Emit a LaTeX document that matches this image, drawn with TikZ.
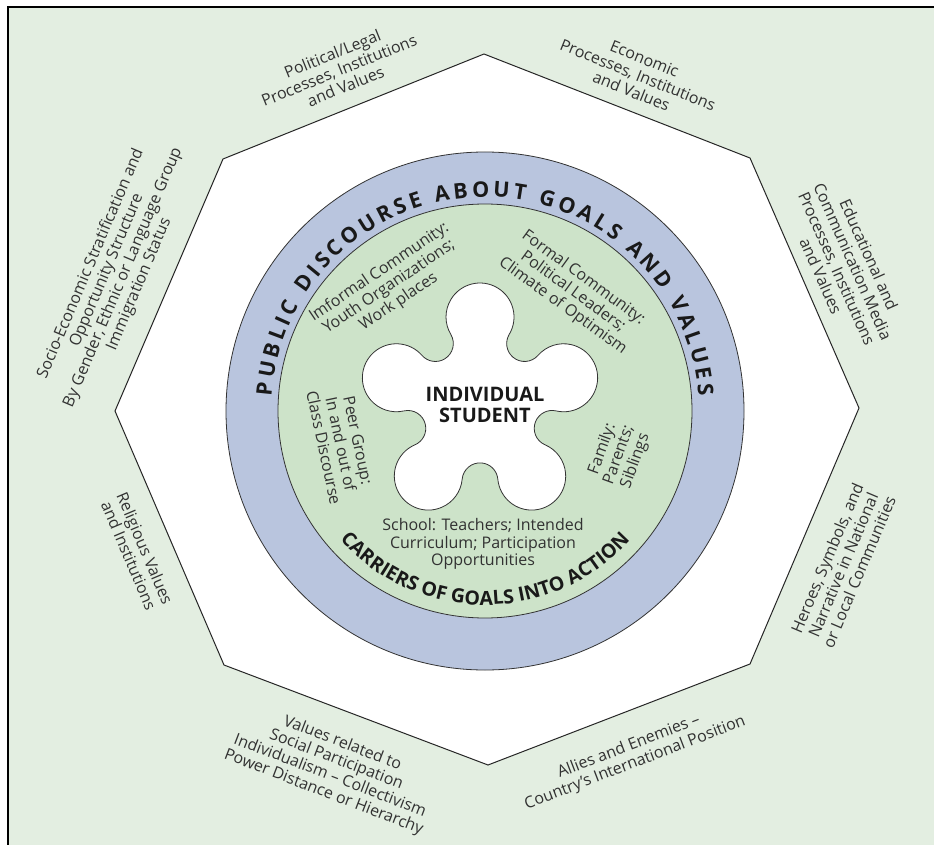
\documentclass[tikz,border=0pt]{standalone}
\usepackage{fontspec}
\setmainfont{Open Sans}
\usetikzlibrary{decorations.text}
\definecolor{bg}{RGB}{227,238,225}
\definecolor{ringblue}{RGB}{185,197,222}
\definecolor{innergreen}{RGB}{205,227,201}
\definecolor{txt}{RGB}{50,50,50}
\begin{document}
\begin{tikzpicture}[x=1pt,y=1pt,
  lab/.style={align=center, text=txt, font=\fontsize{16}{17.5}\selectfont, inner sep=0pt},
  edge/.style={line width=1pt, draw=black!85},
  ringline/.style={line width=0.8pt, draw=black!80}]
\useasboundingbox (0,0) rectangle (934,-845);
\clip (0,0) rectangle (934,-845);
\fill[bg] (8,-7) rectangle (940,-850);
\draw[line width=1.2pt] (8,-850) -- (8,-7) -- (940,-7);
% octagon
\coordinate (o1) at (484,-54);
\coordinate (o2) at (750,-158);
\coordinate (o3) at (859,-408);
\coordinate (o4) at (750,-664);
\coordinate (o5) at (488,-765);
\coordinate (o6) at (224,-665);
\coordinate (o7) at (115,-411);
\coordinate (o8) at (223,-159);
\draw[edge, fill=white] (o1) -- (o2) -- (o3) -- (o4) -- (o5) -- (o6) -- (o7) -- (o8) -- cycle;
% rings
\coordinate (C) at (485,-411);
\draw[ringline, fill=ringblue] (C) circle[radius=259];
\draw[ringline, fill=innergreen] (C) circle[radius=207];
% flower
\coordinate (F) at (480,-405);
\draw[ringline, fill=white] ([shift={(90:88)}]F) ++(-30.8:34)
  foreach \a in {90,162,234,306,378} {
    arc[start angle=\a-120.8, end angle=\a+120.8, radius=34]
    arc[start angle=\a-59.2, end angle=\a-228.8, radius=17.9]
  } -- cycle;
% ring texts
\path[decorate, decoration={text along path, text align={fit to path},
  text={|\color{black!90}\fontsize{21.5}{21.5}\selectfont\bfseries|PUBLIC DISCOURSE ABOUT GOALS AND VALUES}}]
  ([shift={(176:214)}]C) arc[start angle=176, end angle=4, radius=214];
\path[decorate, decoration={text along path, text align=center,
  text={|\color{black!90}\fontsize{19.5}{19.5}\selectfont\bfseries|CARRIERS OF GOALS INTO ACTION}}]
  ([shift={(215:194)}]C) arc[start angle=215, end angle=325, radius=194];
% centre
\node[align=center, inner sep=0pt, text=black!90, font=\fontsize{20}{20.5}\selectfont\bfseries] (stud) at (485,-405) {INDIVIDUAL\\STUDENT};
% inner labels
\node[lab, rotate=34] (inf) at (389,-287) {Imformal Community:\\Youth Organizations;\\Work places};
\node[lab, rotate=-36] (form) at (573,-292) {Formal Community:\\Political Leaders;\\Climate of Optimism};
\node[lab, rotate=-78] (peer) at (341,-444) {Peer Group:\\In and out of\\Class Discourse};
\node[lab, rotate=70] (fam) at (619,-455) {Family:\\Parents;\\Siblings};
\node[lab] (school) at (483,-544) {School: Teachers; Intended\\Curriculum; Participation\\Opportunities};
% outer labels
\node[lab, rotate=22] (pol) at (339,-70) {Political/Legal\\Processes, Institutions\\and Values};
\node[lab, rotate=-22] (eco) at (638,-75) {Economic\\Processes, Institutions\\and Values};
\node[lab, rotate=-66] (edu) at (845,-265) {Educational and\\Communication Media\\Processes, Institutions\\and Values};
\node[lab, rotate=67] (her) at (843,-565) {Heroes, Symbols, and\\Narrative in National\\or Local Communities};
\node[lab, rotate=21] (all) at (632,-755) {Allies and Enemies --\\Country's International Position};
\node[lab, rotate=-21] (val) at (333,-768) {Values related to\\Social Participation\\Individualism -- Collectivism\\Power Distance or Hierarchy};
\node[lab, rotate=-67] (rel) at (137,-552) {Religious Values\\and Institutions};
\node[lab, rotate=67] (soc) at (115,-274) {Socio-Economic Stratification and\\Opportunity Structure\\By Gender, Ethnic or Language Group\\Immigration Status};
\end{tikzpicture}
\end{document}
